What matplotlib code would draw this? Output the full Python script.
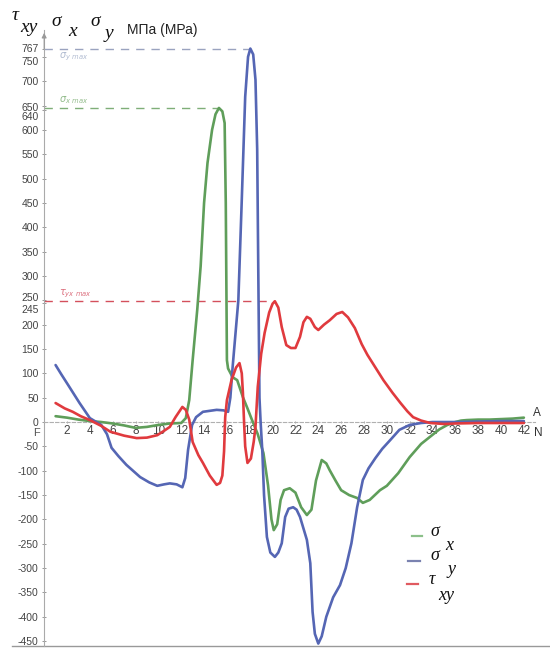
import matplotlib
matplotlib.use('Agg')
import matplotlib.pyplot as plt
from matplotlib.lines import Line2D
from matplotlib.transforms import ScaledTranslation

# ---- data ----
sigma_x_pts = [(1, 12), (2, 9), (3, 5), (4, 2), (5, 0), (6, -3), (7, -7), (8, -12), (9, -10),
               (10, -6), (11, -3), (12, -2), (12.4, 8), (12.7, 45), (13.0, 127), (13.4, 230),
               (13.7, 320), (14.0, 450), (14.3, 532), (14.7, 600), (15.0, 632), (15.3, 645),
               (15.6, 638), (15.8, 614), (15.9, 450), (16.0, 127), (16.1, 110), (16.5, 92),
               (16.9, 86), (17.4, 51), (17.8, 28), (18.2, 4), (18.7, -25), (19.2, -64),
               (19.6, -130), (19.9, -200), (20.1, -222), (20.4, -210), (20.7, -160), (21.0, -140),
               (21.5, -136), (22.0, -145), (22.5, -175), (23.0, -191), (23.4, -180), (23.8, -120),
               (24.3, -78), (24.7, -85), (25.0, -99), (25.5, -120), (26.0, -140), (26.7, -150),
               (27.4, -156), (27.9, -166), (28.5, -160), (29.4, -140), (30.0, -131), (31.0, -105),
               (32.0, -72), (33.0, -45), (33.8, -30), (34.6, -15), (35.3, -6), (36.0, 0),
               (36.5, 3), (37, 4), (38, 5), (39, 5), (40, 6), (41, 7), (42, 9)]

sigma_y_pts = [(1, 117), (1.5, 98), (2.1, 76), (3.1, 39), (4.0, 8), (5.0, -6), (5.5, -25),
               (5.9, -53), (6.5, -70), (7.2, -88), (8.4, -113), (9.2, -124), (9.9, -131),
               (10.5, -128), (11.0, -126), (11.6, -128), (12.1, -134), (12.35, -115), (12.6, -57),
               (12.95, -6), (13.3, 10), (13.9, 21), (15.1, 25), (15.7, 24), (16.1, 21), (16.3, 50),
               (16.5, 113), (17.0, 250), (17.3, 456), (17.6, 668), (17.85, 750), (18.05, 767),
               (18.3, 755), (18.5, 703), (18.65, 560), (18.75, 300), (18.85, 50), (18.95, 0),
               (19.1, -60), (19.25, -150), (19.5, -236), (19.8, -268), (20.2, -277), (20.5, -268),
               (20.8, -249), (21.1, -195), (21.4, -178), (21.8, -175), (22.1, -180), (22.4, -195),
               (23.0, -242), (23.3, -290), (23.5, -390), (23.7, -435), (24.0, -455), (24.3, -440),
               (24.7, -400), (25.3, -360), (25.9, -335), (26.4, -300), (26.9, -249), (27.4, -175),
               (27.9, -119), (28.4, -95), (29.0, -74), (29.6, -55), (30.3, -37), (31.1, -16),
               (32.0, -6), (33.0, -2), (34, 0), (36, 0), (38, 1), (40, 2), (42, 2)]

tau_xy_pts = [(1, 39), (1.8, 28), (2.5, 21), (3.2, 12), (4, 4), (5, -8), (5.8, -20), (7, -28),
              (8.1, -33), (9, -32), (9.9, -27), (10.5, -18), (11.0, -10), (11.5, 10), (12.1, 31),
              (12.4, 25), (12.7, 5), (13.0, -41), (13.5, -68), (13.9, -84), (14.5, -110),
              (15.1, -129), (15.4, -125), (15.6, -110), (15.75, -60), (15.85, 10), (16.0, 45),
              (16.4, 86), (16.8, 112), (17.1, 121), (17.3, 100), (17.4, 60), (17.5, 0),
              (17.6, -50), (17.8, -84), (18.1, -75), (18.35, -40), (18.5, -10), (18.7, 72),
              (19.0, 140), (19.3, 183), (19.7, 225), (20.0, 243), (20.2, 248), (20.5, 235),
              (20.8, 195), (21.2, 158), (21.6, 152), (22.0, 152), (22.4, 175), (22.7, 205),
              (23.0, 216), (23.3, 212), (23.7, 195), (24.0, 189), (24.5, 200), (25.0, 209),
              (25.6, 222), (26.1, 226), (26.6, 215), (27.2, 193), (27.8, 160), (28.3, 138),
              (29.0, 112), (29.7, 86), (30.5, 60), (31.2, 39), (31.8, 22), (32.3, 10), (33.0, 3),
              (33.8, -2), (35, -4), (36, -3), (38, -2), (40, -2), (42, -2)]

y_ticks = [767, 750, 700, 650, 640, 600, 550, 500, 450, 400, 350, 300, 250, 245, 200, 150,
           100, 50, 0, -50, -100, -150, -200, -250, -300, -350, -400, -450]
x_ticks = list(range(2, 43, 2))

max_labels = {'sy': r'$\sigma_{y\ max}$', 'sx': r'$\sigma_{x\ max}$', 'tau': r'$\tau_{yx\ max}$'}

# ---- styles ----
C_GREEN = '#5f9e5a'
C_BLUE = '#5566b4'
C_RED = '#e03a3e'
label_shift_px = {767: -1, 750: 4, 650: 1, 640: 6, 250: -3, 245: 6}
# (x position, vertical offset in data units, vertical alignment) of the "max" notes
label_place = {'sy': (1.3, -4, 'top'), 'sx': (1.3, 3, 'bottom'), 'tau': (1.3, 3, 'bottom')}

fig = plt.figure(figsize=(5.5, 6.59), dpi=100)
ax = fig.add_axes([0.0803, 0.0197, 0.893, 0.9347])
ax.set_xlim(0, 43)
ax.set_ylim(-460, 805)

series = [(sigma_x_pts, C_GREEN), (sigma_y_pts, C_BLUE), (tau_xy_pts, C_RED)]
for pts, col in series:
    xs, ys = zip(*pts)
    ax.plot(xs, ys, color=col, lw=1.9, solid_joinstyle='round', solid_capstyle='round', zorder=3)

# max dashed lines
def peak(pts):
    return max(pts, key=lambda p: p[1])

for pts, col, key, lcol in [(sigma_y_pts, '#9aa3bf', 'sy', '#a8b4cc'),
                            (sigma_x_pts, '#7fae78', 'sx', '#86b47e'),
                            (tau_xy_pts, '#d4505c', 'tau', '#d86070')]:
    px, py = peak(pts)
    ax.plot([0, px], [py, py], color=col, lw=1.0, ls=(0, (6, 5)), zorder=2)
    lx, dy, va = label_place[key]
    ax.text(lx, py + dy, max_labels[key], color=lcol, fontsize=7, ha='left',
            va=va, style='italic', alpha=0.9)

# spines
for s in ['top', 'right']:
    ax.spines[s].set_visible(False)
ax.spines['left'].set_color('#aaaaaa')
ax.spines['left'].set_linewidth(0.8)
ax.spines['bottom'].set_position(('data', 0))
ax.spines['bottom'].set_color('#b0b0b0')
ax.spines['bottom'].set_linewidth(0.8)
ax.spines['bottom'].set_linestyle((0, (3, 2)))

ax.set_yticks(y_ticks)
ax.set_yticklabels([str(v) for v in y_ticks], fontsize=7.5, color='#444444',
                   fontfamily='Liberation Sans')
ax.set_xticks(x_ticks)
ax.set_xticklabels([str(v) for v in x_ticks], fontsize=8.5, color='#444444',
                   fontfamily='Liberation Sans')
ax.tick_params(axis='y', direction='inout', length=3, width=0.7, color='#999999', pad=2.5)
ax.tick_params(axis='x', direction='inout', length=2, width=0.7, color='#aaaaaa', pad=1)

for lbl, v in zip(ax.get_yticklabels(), y_ticks):
    d = label_shift_px.get(v, 0)
    if d:
        lbl.set_transform(lbl.get_transform() + ScaledTranslation(0, -d / 100, fig.dpi_scale_trans))

# arrow on top of y axis
ax.annotate('', xy=(0, 1.0), xycoords='axes fraction', xytext=(0, 0.965),
            arrowprops=dict(arrowstyle='-|>', color='#999999', lw=0.8, mutation_scale=7))

# bottom line
ax.plot([-0.065, 1.03], [0, 0], transform=ax.transAxes, color='#999999', lw=1.0, clip_on=False)

# axis letters
ax.text(-0.7, -12, 'F', fontsize=8, color='#555555', ha='center', va='top',
        fontfamily='Liberation Sans')
ax.text(43.1, 6, 'A', fontsize=8.5, color='#333333', ha='center', va='bottom',
        fontfamily='Liberation Sans', clip_on=False)
ax.text(43.25, -10, 'N', fontsize=8.5, color='#333333', ha='center', va='top',
        fontfamily='Liberation Sans', clip_on=False)

W, H = 550.0, 659.0
def ft(px, py, s, **kw):
    fig.text(px / W, 1 - py / H, s, **kw)

serif = dict(fontfamily='Liberation Serif', style='italic', color='#111111')
# header
ft(12, 16, 'τ', fontsize=14, ha='left', va='center', **serif)
ft(20, 28, 'xy', fontsize=14, ha='left', va='center', **serif)
ft(51, 21, 'σ', fontsize=14, ha='left', va='center', **serif)
ft(68, 32, 'x', fontsize=14, ha='left', va='center', **serif)
ft(90, 21, 'σ', fontsize=14, ha='left', va='center', **serif)
ft(105, 34, 'y', fontsize=14, ha='left', va='center', **serif)
ft(127, 30, 'МПа (МРа)', fontsize=10, ha='left', va='center', color='#222222',
   fontfamily='Liberation Sans')

# legend
for (y_line, col, x0, x1) in [(536, '#8cc08a', 412, 422), (561, '#7a82b0', 408, 420),
                              (584, '#e05a60', 407, 418)]:
    fig.add_artist(Line2D([x0 / W, x1 / W], [1 - y_line / H, 1 - y_line / H],
                          transform=fig.transFigure, color=col, lw=1.6))
ft(430, 532, 'σ', fontsize=13, ha='left', va='center', **serif)
ft(445, 546, 'x', fontsize=13, ha='left', va='center', **serif)
ft(430, 556, 'σ', fontsize=13, ha='left', va='center', **serif)
ft(447, 569, 'y', fontsize=13, ha='left', va='center', **serif)
ft(429, 580, 'τ', fontsize=13, ha='left', va='center', **serif)
ft(438, 596, 'xy', fontsize=13, ha='left', va='center', **serif)

fig.savefig('out.png', dpi=100)
